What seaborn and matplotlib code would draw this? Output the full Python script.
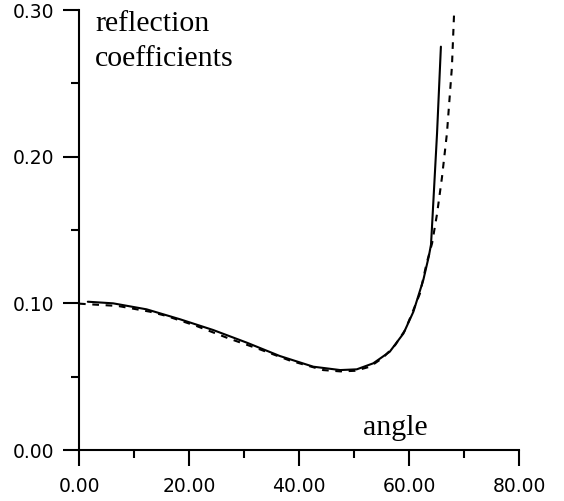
import matplotlib
matplotlib.use("Agg")
import matplotlib.pyplot as plt
import seaborn as sns
import pandas as pd
from matplotlib.ticker import FormatStrFormatter, MultipleLocator

# Data
angle_solid = [1.6, 6.2, 12.3, 18.4, 24.4, 30.5, 36.5, 42.6, 47.5, 50.5, 53.5,
               56.5, 59.0, 60.8, 62.6, 63.6, 64.0, 64.15, 65.1, 65.8]
refl_solid = [0.1011, 0.1000, 0.0959, 0.0891, 0.0818, 0.0732, 0.0641, 0.0568,
              0.0545, 0.0550, 0.0591, 0.0670, 0.0795, 0.0943, 0.1159, 0.1320,
              0.1400, 0.1500, 0.2160, 0.2750]

angle_dashed = [0.0, 1.2, 7.1, 12.9, 15.9, 21.4, 27.2, 32.9, 38.4, 44.4, 47.5,
                50.2, 52.9, 55.3, 57.5, 59.3, 60.8, 62.0, 63.2, 64.2, 65.1,
                66.0, 66.9, 67.8, 68.2]
refl_dashed = [0.0998, 0.0995, 0.0982, 0.0943, 0.0914, 0.0845, 0.0761, 0.0686,
               0.0609, 0.0545, 0.0536, 0.0540, 0.0568, 0.0630, 0.0716, 0.0818,
               0.0955, 0.1068, 0.1273, 0.1410, 0.1610, 0.1860, 0.2160, 0.2610,
               0.2980]

x_ticks = [0, 20, 40, 60, 80]
y_ticks = [0.0, 0.1, 0.2, 0.3]

sns.set_style("ticks")
plt.rcParams['font.family'] = ['DejaVu Sans']
plt.rcParams['text.color'] = 'black'

fig = plt.figure(figsize=(5.64, 5.01), dpi=100)
ax = fig.add_axes([79 / 564, 51 / 501, 440 / 564, 440 / 501])

df_s = pd.DataFrame({"angle": angle_solid, "r": refl_solid})
df_d = pd.DataFrame({"angle": angle_dashed, "r": refl_dashed})

sns.lineplot(data=df_s, x="angle", y="r", ax=ax, color="black", lw=1.5,
             sort=False, estimator=None, clip_on=False)
sns.lineplot(data=df_d, x="angle", y="r", ax=ax, color="black", lw=1.5,
             sort=False, estimator=None, clip_on=False, linestyle=(0, (3.2, 3.2)))

ax.set_xlim(0, 80)
ax.set_ylim(0, 0.30)
ax.set_xticks(x_ticks)
ax.set_yticks(y_ticks)
ax.xaxis.set_minor_locator(MultipleLocator(10))
ax.yaxis.set_minor_locator(MultipleLocator(0.05))
ax.xaxis.set_major_formatter(FormatStrFormatter('%.2f'))
ax.yaxis.set_major_formatter(FormatStrFormatter('%.2f'))

ax.set_xlabel("")
ax.set_ylabel("")
for s in ["top", "right"]:
    ax.spines[s].set_visible(False)
for s in ["left", "bottom"]:
    ax.spines[s].set_linewidth(1.5)
    ax.spines[s].set_color("black")

ax.tick_params(axis="both", which="major", length=11.5, width=1.5,
               direction="out", colors="black", labelcolor="black", labelsize=13.5)
ax.tick_params(axis="x", which="major", pad=8)
ax.tick_params(axis="y", which="major", pad=6)
ax.tick_params(axis="both", which="minor", length=5.8, width=1.5,
               direction="out", colors="black")

ax.text(2.9, 0.2855, "reflection", family="Liberation Serif", color="black",
        fontsize=21.5, ha="left", va="baseline")
ax.text(2.9, 0.2616, "coefficients", family="Liberation Serif", color="black",
        fontsize=21.5, ha="left", va="baseline")
ax.text(51.6, 0.0105, "angle", family="Liberation Serif", color="black",
        fontsize=21.5, ha="left", va="baseline")

fig.savefig("out.png", dpi=100, facecolor="white")
